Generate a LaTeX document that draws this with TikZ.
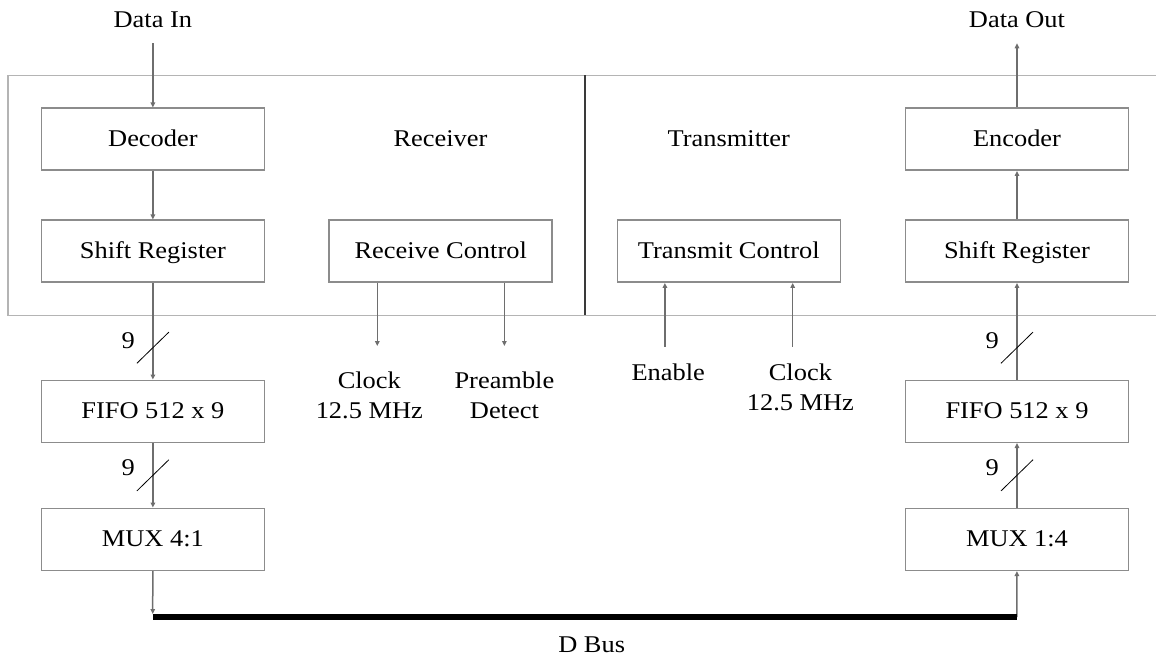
\documentclass[tikz,border=0pt]{standalone}
\usepackage{fontspec}
\setmainfont{Liberation Serif}[FakeStretch=1.1]
\usepackage{tikz}
\usetikzlibrary{arrows.meta,calc}
\definecolor{boxgray}{HTML}{8C8C8C}
\definecolor{arrgray}{HTML}{6E6E6E}
\definecolor{framegray}{HTML}{B4B4B4}
\definecolor{midgray}{HTML}{3A3A3A}

\begin{document}
\begin{tikzpicture}[x=1pt,y=-1pt,font=\fontsize{24}{30}\selectfont,
  blk/.style={draw=boxgray,line width=1.5pt,minimum width=223pt,minimum height=62pt,inner sep=0pt,text height=17pt,text depth=1.8pt},
  arr/.style={draw=arrgray,line width=1.5pt,-{Triangle[length=5pt,width=4.5pt]}},
  io/.style={inner ysep=15pt},
  lbl/.style={align=center,inner sep=0pt},
  frm/.style={draw=framegray,line width=1.5pt},
  bw/.style={line width=0.8pt},
  bus/.style={line width=5.5pt}]
\useasboundingbox (0,0) rectangle (1156,656);
% frame of receiver / transmitter
\draw [frm] (1156,75.3) -- (8,75.3) -- (8,315.3) -- (1156,315.3);
\draw [draw=midgray,line width=2pt] (584.8,75.3) -- (584.8,315.3);
\node (receiver) at (440.5,139) {Receiver};
\node (transmitter) at (728.8,139) {Transmitter};
% receive side
\node (datain) at (152.9,20) [io] {Data In};
\node (dec) at (152.9,139.2) [blk] {Decoder};
\node (sr1) at (152.9,251.2) [blk] {Shift Register};
\node (fifo1) at (152.9,411.3) [blk] {FIFO 512 x 9};
\node (mux1) at (152.9,539.3) [blk] {MUX 4:1};
\node (rctl) at (440.7,251.2) [blk] {Receive Control};
\node (clk1) at (369.3,395) [lbl] {Clock\\12.5 MHz};
\node (pre) at (504.4,395) [lbl] {Preamble\\Detect};
% transmit side
\node (dataout) at (1017,20) [io] {Data Out};
\node (enc) at (1017,139.2) [blk] {Encoder};
\node (sr2) at (1017,251.2) [blk] {Shift Register};
\node (fifo2) at (1017,411.3) [blk] {FIFO 512 x 9};
\node (mux2) at (1017,539.3) [blk] {MUX 1:4};
\node (tctl) at (728.8,251.2) [blk] {Transmit Control};
\node (en) at (668.2,372) [lbl] {Enable};
\node (clk2) at (800.4,387) [lbl] {Clock\\12.5 MHz};
\node (dbus) at (591.7,645) {D Bus};
\coordinate (rc1) at (377.3,346);
\coordinate (rc2) at (504.4,346);
\coordinate (tc1) at (664.9,346.7);
\coordinate (tc2) at (792.7,346.7);
\coordinate (bus1) at (152.7,617);
\coordinate (bus2) at (1016.8,617);
% connections
\draw [arr] (datain) -- (dec);
\draw [arr] (dec) -- (sr1);
\draw [arr] (sr1) -- coordinate[pos=0.67] (w1) (fifo1);
\draw [arr] (fifo1) -- coordinate[pos=0.5] (w2) (mux1);
\draw [arr] (mux1) -- ([yshift=3pt]bus1);
\draw [arr] (rctl.south -| rc1) -- (rc1);
\draw [arr] (rctl.south -| rc2) -- (rc2);
\draw [arr] (tc1) -- (tctl.south -| tc1);
\draw [arr] (tc2) -- (tctl.south -| tc2);
\draw [arr] (bus2) -- (mux2);
\draw [arr] (mux2) -- coordinate[pos=0.5] (w4) (fifo2);
\draw [arr] (fifo2) -- coordinate[pos=0.33] (w3) (sr2);
\draw [arr] (sr2) -- (enc);
\draw [arr] (enc) -- (dataout);
\draw [bus] (bus1) -- (bus2);
% bus width marks
\foreach \w/\n in {w1/n1,w2/n2,w3/n3,w4/n4} {
  \draw [bw] (\w) +(-16,15.6) -- +(16,-15.6);
  \node (\n) at ($(\w)+(-24.7,-7.4)$) {9};
}
\end{tikzpicture}
\end{document}
